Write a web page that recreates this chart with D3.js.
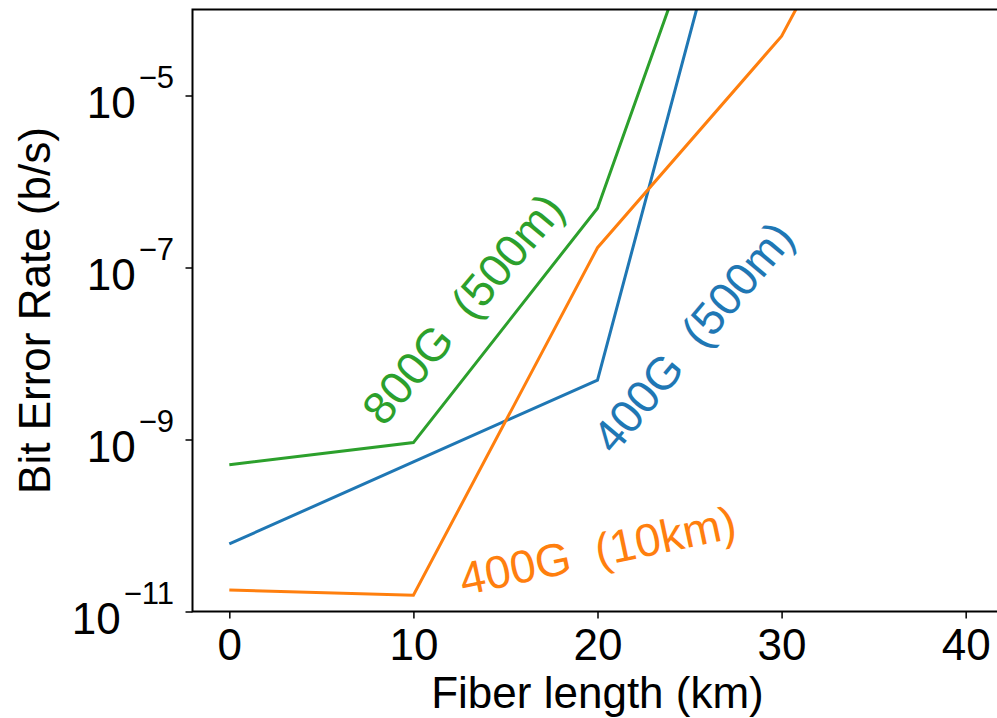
<!DOCTYPE html>
<html lang="en">
<head>
  <meta charset="UTF-8">
  <title>Bit Error Rate vs Fiber Length</title>
  <script src="https://d3js.org/d3.v7.min.js"></script>
  <style>
    body {
      margin: 0;
      background: #fff;
    }
    svg text {
      font-family: "Liberation Sans", Arial, sans-serif;
      fill: #000;
    }
  </style>
</head>
<body>
  <svg width="997" height="718"></svg>

  <script>
    // Fiber length in km
    const fiberKm = [0, 10, 20, 30, 40];

    // Bit error rate per transceiver
    const ber400G500m = [6.1e-11, 5.5e-10, 4.9e-9, 0.5, 0.5];
    const ber400G10km = [1.78e-11, 1.55e-11, 1.7e-7, 4.9e-5, 0.5];
    const ber800G500m = [5.1e-10, 9.2e-10, 4.9e-7, 0.5, 0.5];

    const xTicks = [0, 10, 20, 30, 40];
    const yTickExponents = [-11, -9, -7, -5];

    const seriesNames = ["400G  (500m)", "400G  (10km)", "800G  (500m)"];

    const series = [
      { name: seriesNames[0], values: ber400G500m, color: "#1f77b4",
        label: { x: 25.35, y: 1.45e-8, angle: -50 } },
      { name: seriesNames[1], values: ber400G10km, color: "#ff7f0e",
        label: { x: 20.05, y: 4.6e-11, angle: -12 } },
      { name: seriesNames[2], values: ber800G500m, color: "#2ca02c",
        label: { x: 12.85, y: 3.1e-8, angle: -50 } }
    ];

    const svg = d3.select("svg");

    // axes box (right edge falls just outside the figure)
    const boxLeft = 192.5, boxRight = 1002.5, boxTop = 9.5, boxBottom = 611.5;

    const x = d3.scaleLinear().domain([-2, 42]).range([boxLeft, boxRight]);
    const y = d3.scaleLog().domain([1e-11, 1e-4]).range([boxBottom, boxTop]);

    svg.append("defs").append("clipPath")
      .attr("id", "plot-clip")
      .append("rect")
      .attr("x", boxLeft).attr("y", boxTop)
      .attr("width", boxRight - boxLeft).attr("height", boxBottom - boxTop);

    // lines
    const line = d3.line()
      .x((d, i) => x(fiberKm[i]))
      .y(d => y(d));

    const plot = svg.append("g").attr("clip-path", "url(#plot-clip)");

    series.forEach(s => {
      plot.append("path")
        .datum(s.values)
        .attr("fill", "none")
        .attr("stroke", s.color)
        .attr("stroke-width", 3)
        .attr("d", line);
    });

    // series labels written along the curves
    series.forEach(s => {
      const cx = x(s.label.x), cy = y(s.label.y);
      svg.append("text")
        .attr("transform", `translate(${cx},${cy}) rotate(${s.label.angle})`)
        .attr("text-anchor", "middle")
        .attr("dy", "0.26em")
        .style("font-size", "46px")
        .style("fill", s.color)
        .style("white-space", "pre")
        .text(s.name);
    });

    // x axis
    const gX = svg.append("g")
      .attr("transform", `translate(0,${boxBottom})`)
      .call(d3.axisBottom(x).tickValues(xTicks).tickSize(7).tickSizeOuter(0).tickPadding(0));
    gX.select(".domain").remove();
    gX.selectAll(".tick line").attr("stroke", "#000").attr("stroke-width", 1.5);
    gX.selectAll(".tick text")
      .attr("y", 48)
      .attr("dy", 0)
      .style("font-size", "44px");

    // y axis, labels as 10 with superscript exponent
    const gY = svg.append("g")
      .attr("transform", `translate(${boxLeft},0)`)
      .call(d3.axisLeft(y)
        .tickValues(yTickExponents.map(e => Math.pow(10, e)))
        .tickSize(7).tickSizeOuter(0)
        .tickFormat(""));
    gY.select(".domain").remove();
    gY.selectAll(".tick line").attr("stroke", "#000").attr("stroke-width", 1.5);
    gY.selectAll(".tick text").remove();
    gY.selectAll(".tick").each(function(d) {
      const e = Math.round(Math.log10(d));
      const t = d3.select(this).append("text")
        .attr("x", -18.5)
        .attr("y", 22)
        .attr("text-anchor", "end")
        .style("font-size", "44px");
      t.append("tspan").text("10");
      t.append("tspan")
        .attr("dx", 3)
        .attr("dy", -30)
        .style("font-size", "31px")
        .text("\u2212" + Math.abs(e));
    });

    // spines
    svg.append("rect")
      .attr("x", boxLeft).attr("y", boxTop)
      .attr("width", boxRight - boxLeft).attr("height", boxBottom - boxTop)
      .attr("fill", "none")
      .attr("stroke", "#000")
      .attr("stroke-width", 2);

    // axis titles
    svg.append("text")
      .attr("x", (boxLeft + boxRight) / 2)
      .attr("y", 708)
      .attr("text-anchor", "middle")
      .style("font-size", "44px")
      .text("Fiber length (km)");

    svg.append("text")
      .attr("transform", `translate(50,${(boxTop + boxBottom) / 2}) rotate(-90)`)
      .attr("text-anchor", "middle")
      .style("font-size", "44px")
      .text("Bit Error Rate (b/s)");
  </script>
</body>
</html>
